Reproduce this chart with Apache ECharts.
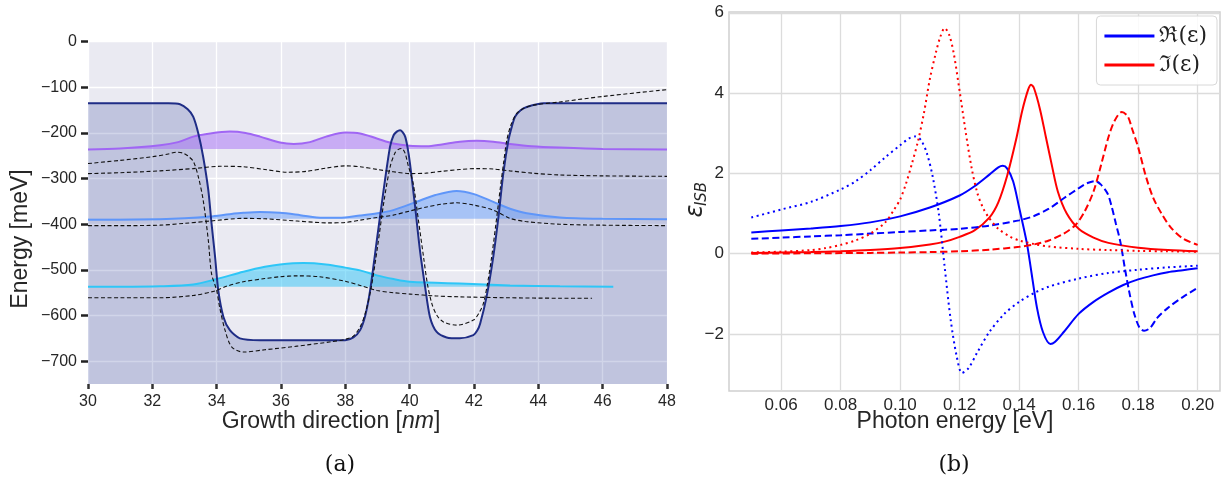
<!DOCTYPE html>
<html><head><meta charset="utf-8">
<script src="https://cdn.jsdelivr.net/npm/echarts@6/dist/echarts.min.js"></script>
<style>html,body{margin:0;padding:0;background:#fff}#c{width:1232px;height:479px}</style>
</head><body><div id="c"></div>
<script>
// ---------- tick labels ----------
const energyTicks = [0, -100, -200, -300, -400, -500, -600, -700];
const epsTicks = [-2, 0, 2, 4, 6];
const photonTicks = [0.06, 0.08, 0.10, 0.12, 0.14, 0.16, 0.18, 0.20];

// ---------- (a) band diagram: [growth nm, energy meV] ----------
const potential = [[30,-135],[32.5,-135],[32.86,-137],[33.1,-148],[33.27,-164],[33.43,-201],[33.58,-252],[33.74,-325],[33.84,-398],[33.95,-471],[34.05,-545],[34.21,-603],[34.41,-632],[34.72,-650],[35.35,-654],[38.0,-654],[38.25,-648],[38.46,-632],[38.62,-600],[38.77,-545],[38.98,-435],[39.19,-325],[39.39,-230],[39.5,-205],[39.6,-197],[39.7,-194],[39.78,-198],[39.86,-208],[39.93,-230],[40.01,-267],[40.17,-362],[40.32,-457],[40.48,-537],[40.63,-603],[40.84,-636],[41.15,-648],[41.56,-650],[41.98,-643],[42.1,-633],[42.19,-618],[42.39,-559],[42.6,-471],[42.76,-384],[42.91,-289],[43.07,-216],[43.18,-185],[43.28,-164],[43.45,-150],[43.64,-143],[44.16,-135],[48,-135]];
const biasedPotential = [[30,-267],[31,-260],[32,-252],[32.5,-246],[32.75,-242],[32.95,-244],[33.1,-250],[33.28,-263],[33.43,-296],[33.58,-347],[33.74,-435],[33.84,-508],[34.0,-545],[34.09,-581],[34.26,-632],[34.47,-669],[34.83,-680],[35.5,-675],[36.5,-667],[37.5,-658],[38.0,-652],[38.25,-645],[38.46,-625],[38.62,-595],[38.8,-540],[39.0,-450],[39.2,-350],[39.4,-272],[39.55,-243],[39.65,-236],[39.75,-234],[39.85,-243],[39.95,-270],[40.11,-311],[40.27,-390],[40.43,-471],[40.55,-530],[40.69,-574],[40.85,-600],[41.05,-614],[41.46,-621],[41.98,-610],[42.15,-595],[42.29,-574],[42.42,-530],[42.55,-471],[42.68,-400],[42.81,-325],[42.92,-265],[43.02,-216],[43.15,-182],[43.33,-157],[43.55,-146],[43.85,-139],[44.67,-132],[46,-120],[48,-105]];
const levelUpperDashed = [[30,-289],[31,-287],[32.24,-283],[33.27,-278],[34.1,-273],[34.83,-274],[35.5,-280],[36.2,-286],[36.8,-284],[37.4,-277],[38.0,-272],[38.46,-274],[39.0,-280],[39.49,-285],[40.01,-289],[40.5,-288],[41.0,-284],[41.56,-280],[42.08,-278],[42.6,-279],[43.12,-283],[43.8,-288],[44.67,-292],[46,-294],[48,-295]];
const levelMiddleDashed = [[30,-403],[31,-403],[32.24,-402],[33.0,-398],[33.79,-393],[34.83,-387],[35.5,-388],[36.5,-393],[37.5,-397],[38.0,-396],[38.46,-391],[39.0,-385],[39.49,-380],[40.0,-371],[40.53,-362],[41.0,-356],[41.46,-353],[42.0,-358],[42.6,-369],[43.12,-387],[43.6,-394],[44.67,-400],[46,-402],[48,-403]];
const levelLowerDashed = [[30,-561],[31,-561],[32.24,-561],[33.27,-556],[33.95,-546],[34.3,-536],[34.83,-526],[35.5,-519],[35.97,-515],[36.5,-513],[37.2,-515],[38.0,-525],[38.46,-534],[38.98,-545],[39.5,-550],[40.01,-553],[40.8,-557],[41.56,-559],[43,-561],[44.67,-562],[45.67,-562]];
const waveUpper = [[30,-236],[31,-234],[32.24,-227],[32.8,-220],[33.27,-208],[33.8,-201],[34.41,-197],[34.9,-200],[35.35,-208],[35.97,-221],[36.4,-224],[36.9,-220],[37.4,-208],[38.0,-199],[38.46,-201],[38.98,-212],[39.49,-223],[40.0,-228],[40.53,-229],[41.0,-225],[41.56,-219],[42.08,-217],[42.6,-219],[43.12,-224],[43.8,-229],[44.67,-232],[46,-235],[48,-236]];
const waveMiddle = [[30,-390],[31,-390],[32.24,-389],[33.0,-387],[33.79,-383],[34.4,-378],[34.83,-375],[35.35,-373],[35.97,-375],[36.6,-380],[37.3,-386],[37.8,-386],[38.46,-381],[39.0,-376],[39.49,-369],[40.21,-351],[40.8,-336],[41.46,-327],[42.0,-334],[42.6,-351],[43.12,-366],[43.64,-376],[44.67,-385],[46,-388],[48,-389]];
const waveLower = [[30,-537],[31,-537],[32.24,-536],[33.27,-532],[34.0,-520],[34.83,-504],[35.5,-493],[35.97,-488],[36.7,-485],[37.4,-488],[38.0,-495],[38.46,-501],[38.98,-512],[39.5,-520],[40.01,-526],[40.8,-528],[41.56,-530],[43.12,-534],[44.67,-536],[46.33,-537]];
const levelEnergies = [-235, -388, -537];

// ---------- (b) permittivity: [photon eV, eps] ----------
const reSolid = [[0.05,0.53],[0.06,0.58],[0.07,0.63],[0.08,0.69],[0.09,0.78],[0.10,0.93],[0.11,1.15],[0.12,1.45],[0.125,1.68],[0.13,1.97],[0.133,2.15],[0.1345,2.19],[0.136,2.12],[0.138,1.8],[0.14,1.15],[0.1425,0.3],[0.144,-0.4],[0.146,-1.35],[0.148,-1.95],[0.1505,-2.25],[0.152,-2.2],[0.155,-1.95],[0.16,-1.5],[0.165,-1.2],[0.17,-0.97],[0.175,-0.78],[0.18,-0.64],[0.185,-0.54],[0.19,-0.46],[0.195,-0.41],[0.20,-0.36]];
const imSolid = [[0.05,0.02],[0.06,0.03],[0.07,0.04],[0.08,0.06],[0.09,0.09],[0.10,0.14],[0.11,0.23],[0.115,0.3],[0.12,0.42],[0.125,0.58],[0.13,0.9],[0.133,1.28],[0.136,1.95],[0.139,2.85],[0.141,3.55],[0.143,4.08],[0.144,4.21],[0.145,4.12],[0.147,3.6],[0.149,2.9],[0.151,2.2],[0.153,1.55],[0.156,1.0],[0.16,0.62],[0.165,0.4],[0.17,0.27],[0.18,0.15],[0.19,0.09],[0.20,0.06]];
const reDashed = [[0.05,0.37],[0.06,0.40],[0.07,0.43],[0.08,0.46],[0.09,0.5],[0.10,0.54],[0.11,0.58],[0.12,0.62],[0.13,0.7],[0.14,0.83],[0.145,0.94],[0.15,1.12],[0.155,1.38],[0.16,1.63],[0.163,1.76],[0.1655,1.81],[0.1675,1.72],[0.1697,1.5],[0.171,1.2],[0.1725,0.75],[0.174,0.3],[0.1755,-0.35],[0.177,-0.95],[0.1787,-1.5],[0.1805,-1.85],[0.182,-1.92],[0.184,-1.85],[0.1864,-1.6],[0.19,-1.35],[0.195,-1.08],[0.20,-0.85]];
const imDashed = [[0.05,0.0],[0.07,0.01],[0.09,0.02],[0.10,0.03],[0.11,0.04],[0.12,0.06],[0.13,0.1],[0.14,0.17],[0.145,0.23],[0.15,0.33],[0.155,0.5],[0.159,0.72],[0.162,1.05],[0.165,1.55],[0.1675,2.2],[0.17,2.9],[0.172,3.3],[0.1745,3.53],[0.1765,3.42],[0.178,3.1],[0.18,2.65],[0.1825,1.95],[0.185,1.4],[0.188,0.98],[0.191,0.65],[0.195,0.38],[0.20,0.22]];
const reDotted = [[0.05,0.9],[0.06,1.1],[0.07,1.29],[0.08,1.6],[0.085,1.8],[0.09,2.08],[0.095,2.4],[0.10,2.7],[0.103,2.87],[0.105,2.92],[0.107,2.83],[0.109,2.5],[0.111,1.9],[0.113,1.0],[0.115,-0.35],[0.117,-1.65],[0.119,-2.55],[0.1208,-2.97],[0.123,-2.85],[0.126,-2.45],[0.13,-1.95],[0.135,-1.5],[0.14,-1.2],[0.145,-0.98],[0.15,-0.82],[0.16,-0.62],[0.17,-0.48],[0.18,-0.4],[0.19,-0.34],[0.20,-0.3]];
const imDotted = [[0.05,0.03],[0.06,0.05],[0.07,0.09],[0.075,0.14],[0.08,0.22],[0.085,0.33],[0.09,0.5],[0.095,0.78],[0.098,1.1],[0.1,1.35],[0.102,1.75],[0.104,2.25],[0.106,2.8],[0.108,3.5],[0.11,4.35],[0.112,5.0],[0.1135,5.4],[0.115,5.62],[0.1165,5.45],[0.118,5.0],[0.12,4.05],[0.122,3.05],[0.124,2.15],[0.126,1.5],[0.128,1.12],[0.13,0.88],[0.133,0.62],[0.137,0.42],[0.14,0.33],[0.145,0.24],[0.15,0.18],[0.16,0.12],[0.17,0.09],[0.18,0.07],[0.19,0.06],[0.20,0.05]];

const reName = 'ℜ(ε)', imName = 'ℑ(ε)';

// ---------- chart ----------
const minus = v => String(v).replace('-', '\u2212');
const chart = echarts.init(document.getElementById('c'), null, {renderer: 'canvas'});
const textCol = '#262626';
const sans = 'Liberation Sans';

function waveSeries(data, color, fill, base) {
  return {type: 'line', xAxisIndex: 0, yAxisIndex: 0, data: data, showSymbol: false, symbol: 'none',
    smooth: 0.3, lineStyle: {color: color, width: 2}, areaStyle: {color: fill, origin: base, opacity: 1}, z: 3};
}
function dashBlack(data) {
  return {type: 'line', xAxisIndex: 0, yAxisIndex: 0, data: data, showSymbol: false, symbol: 'none',
    smooth: 0.3, lineStyle: {color: '#111', width: 1.1, type: [4, 2.5]}, z: 5};
}
function rightSeries(name, data, color, type) {
  return {type: 'line', name: name, xAxisIndex: 1, yAxisIndex: 1, data: data, showSymbol: false, symbol: 'none',
    smooth: 0.3, lineStyle: {color: color, width: 2, type: type}, itemStyle: {color: color}, z: 4};
}

const option = {
  animation: false,
  backgroundColor: '#fff',
  textStyle: {fontFamily: sans},
  grid: [
    {left: 88, top: 41.7, width: 579, height: 342.3, show: true, backgroundColor: '#EAEAF2', borderWidth: 0},
    {left: 729, top: 12, width: 491, height: 379, show: true, backgroundColor: '#fff', borderColor: '#d0d0d0', borderWidth: 1.5}
  ],
  xAxis: [
    {type: 'value', gridIndex: 0, min: 30, max: 48, interval: 2, position: 'bottom',
      axisLine: {show: false, onZero: false},
      axisTick: {show: true, length: 5, lineStyle: {color: '#333', width: 2.5}},
      axisLabel: {fontSize: 16, color: textCol, margin: 10, fontFamily: sans},
      splitLine: {show: true, lineStyle: {color: '#ffffff', width: 1.3}}},
    {type: 'value', gridIndex: 1, min: 0.0425, max: 0.2075, position: 'bottom',
      axisLine: {show: false, onZero: false}, axisTick: {show: false, customValues: photonTicks},
      axisLabel: {customValues: photonTicks, fontSize: 17, color: textCol, margin: 6, fontFamily: sans,
        formatter: v => v.toFixed(2)},
      splitLine: {show: true, lineStyle: {color: '#dcdcdc', width: 1.3}}}
  ],
  yAxis: [
    {type: 'value', gridIndex: 0, min: -750, max: 0, position: 'left',
      axisLine: {show: false, onZero: false},
      axisTick: {show: true, customValues: energyTicks, length: 7, lineStyle: {color: '#222', width: 2.5}},
      axisLabel: {customValues: energyTicks, fontSize: 16, color: textCol, margin: 11, fontFamily: sans, formatter: minus},
      splitLine: {show: true, lineStyle: {color: '#ffffff', width: 1.3}}},
    {type: 'value', gridIndex: 1, min: -3.42, max: 6.02, position: 'left',
      axisLine: {show: false, onZero: false}, axisTick: {show: false, customValues: epsTicks},
      axisLabel: {customValues: epsTicks, fontSize: 17, color: textCol, margin: 5, fontFamily: sans, formatter: minus},
      splitLine: {show: true, lineStyle: {color: '#dcdcdc', width: 1.3}}}
  ],
  legend: {
    data: [reName, imName], orient: 'vertical', right: 15, top: 16,
    icon: 'rect', itemWidth: 50, itemHeight: 3, itemGap: 5,
    padding: [8, 10, 8, 8],
    backgroundColor: 'rgba(255,255,255,0.85)', borderColor: '#d8d8d8', borderWidth: 1, borderRadius: 4,
    textStyle: {fontFamily: 'DejaVu Serif', fontSize: 22, color: '#222', lineHeight: 24}
  },
  series: [
    {type: 'line', xAxisIndex: 0, yAxisIndex: 0, data: potential, showSymbol: false, symbol: 'none', smooth: 0.25,
      lineStyle: {width: 0, color: 'rgba(0,0,0,0)'}, areaStyle: {color: 'rgba(40,55,150,0.3)', origin: 'start'}, z: 2},
    waveSeries(waveUpper, '#A066F4', 'rgba(165,110,245,0.5)', levelEnergies[0]),
    waveSeries(waveMiddle, '#5F96F9', 'rgba(100,155,250,0.5)', levelEnergies[1]),
    waveSeries(waveLower, '#2EC6F7', 'rgba(45,195,245,0.5)', levelEnergies[2]),
    {type: 'line', xAxisIndex: 0, yAxisIndex: 0, data: potential, showSymbol: false, symbol: 'none', smooth: 0.25,
      lineStyle: {width: 2, color: '#1F2D86'}, z: 4},
    dashBlack(biasedPotential),
    dashBlack(levelUpperDashed),
    dashBlack(levelMiddleDashed),
    dashBlack(levelLowerDashed),
    rightSeries(reName, reSolid, '#0000FF', 'solid'),
    rightSeries(imName, imSolid, '#FF0000', 'solid'),
    rightSeries('Re dashed', reDashed, '#0000FF', [7, 3.5]),
    rightSeries('Im dashed', imDashed, '#FF0000', [7, 3.5]),
    rightSeries('Re dotted', reDotted, '#0000FF', [2, 3.6]),
    rightSeries('Im dotted', imDotted, '#FF0000', [2, 3.6])
  ],
  graphic: [
    {type: 'text', x: 21, y: 239, rotation: Math.PI / 2, style: {text: 'Energy [meV]', fontSize: 23, fontFamily: sans, fill: textCol, align: 'center', verticalAlign: 'middle'}},
    {type: 'text', x: 331, y: 422, style: {text: '{a|Growth direction [}{b|nm}{a|]}', align: 'center', verticalAlign: 'middle',
      rich: {a: {fontSize: 23, fontFamily: sans, fill: textCol, color: textCol}, b: {fontSize: 23, fontFamily: sans, fontStyle: 'italic', fill: textCol, color: textCol}}}},
    {type: 'text', x: 955, y: 422, style: {text: 'Photon energy [eV]', fontSize: 23, fontFamily: sans, fill: textCol, align: 'center', verticalAlign: 'middle'}},
    {type: 'text', x: 696, y: 211, rotation: Math.PI / 2, style: {text: 'ε', fontSize: 24, fontFamily: 'DejaVu Sans', fontStyle: 'italic', fill: textCol, align: 'center', verticalAlign: 'middle'}},
    {type: 'text', x: 702, y: 194, rotation: Math.PI / 2, style: {text: 'ISB', fontSize: 15, fontFamily: 'DejaVu Sans', fontStyle: 'italic', fill: textCol, align: 'center', verticalAlign: 'middle'}},
    {type: 'text', x: 340, y: 465, style: {text: '(a)', fontSize: 22, fontFamily: 'DejaVu Serif', fill: '#111', align: 'center', verticalAlign: 'middle'}},
    {type: 'text', x: 954, y: 465, style: {text: '(b)', fontSize: 22, fontFamily: 'DejaVu Serif', fill: '#111', align: 'center', verticalAlign: 'middle'}}
  ]
};
chart.setOption(option);
</script>
</body></html>
